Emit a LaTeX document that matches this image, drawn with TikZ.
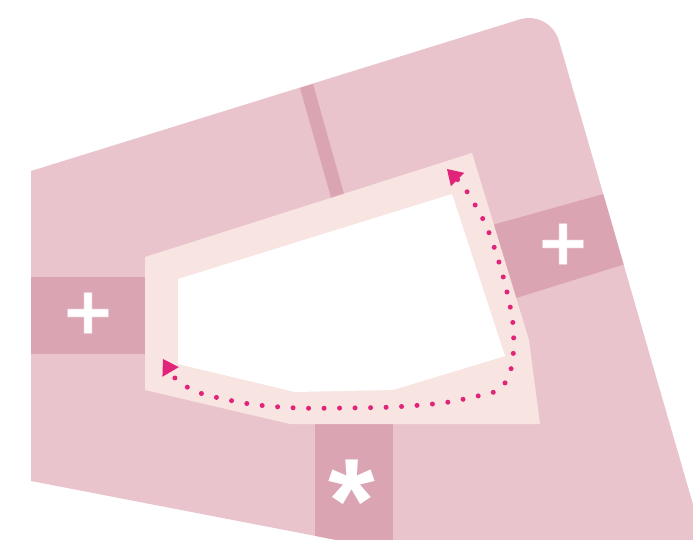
\documentclass[tikz,border=0pt]{standalone}
\usepackage{fontspec}
\newfontfamily\signfont{DejaVu Sans Bold}[FakeBold=1.2]
\newfontfamily\starfont{Liberation Sans Bold}
\usetikzlibrary{arrows.meta}
\definecolor{tilepink}{RGB}{234,196,204}
\definecolor{strippink}{RGB}{219,164,178}
\definecolor{framepink}{RGB}{248,229,226}
\definecolor{routepink}{RGB}{226,35,122}

\begin{document}
\begin{tikzpicture}[x=1pt,y=-1pt,
  strip/.style={fill=strippink},
  sign/.style={text=white,inner sep=0pt,font=\signfont\fontsize{64}{64}\selectfont},
  route/.style={routepink,line width=5pt,line cap=round,dash pattern=on 0pt off 15.5pt,
    {Triangle[length=15pt,width=19pt,line width=0pt]}-{Triangle[length=15pt,width=19pt,line width=0pt]}}]
\useasboundingbox (0,0) rectangle (693,539);
\clip (0,0) rectangle (693,539);
\fill[white] (0,0) rectangle (693,539);
% outer tile
\coordinate (oTL) at (31,171);
\coordinate (oTR) at (550,10);
\coordinate (oBR) at (725,615);
\coordinate (oBL) at (31,481);
\fill[tilepink] (oTL) [rounded corners=32pt] -- (oTR) -- (oBR) [sharp corners] -- (oBL) -- cycle;
\begin{scope}
  \clip (oTL) [rounded corners=32pt] -- (oTR) -- (oBR) [sharp corners] -- (oBL) -- cycle;
  \fill[strip] (300,88) -- (313,84) -- (350,215) -- (336,215) -- cycle;
  \fill[strip] (20,277) rectangle (160,354);
  \fill[strip] (485,227) -- (650,181) -- (680,247) -- (500,303) -- cycle;
  \fill[strip] (315,400) rectangle (393,560);
\end{scope}
% frame and hole
\fill[framepink] (145,257) -- (472,153) -- (529,340) -- (540,424) -- (290,424) -- (145,390) -- cycle;
\fill[white] (178,279) -- (452,194) -- (505,356) -- (393,390) -- (295,392) -- (178,364) -- cycle;
% signs
\node[sign] (plusL) at (88,313) {+};
\node[sign] (plusR) at (563,244) {+};
\node[sign,font=\starfont\fontsize{120}{120}\selectfont] (star) at (352,483) {\raisebox{-0.30em}[0.39em][0pt]{*}};
% route
\coordinate (tipTop) at (447,169);
\coordinate (tipLeft) at (163,359);
\draw[route] (tipTop) -- plot[smooth] coordinates {(462,184) (474,203) (488,230) (503,276) (513,324) (512,365) (500,389) (473,397) (442,403) (393,407) (345,408) (298,408) (250,404) (203,394) (182,384) (173,376)} -- (tipLeft);
\end{tikzpicture}
\end{document}
